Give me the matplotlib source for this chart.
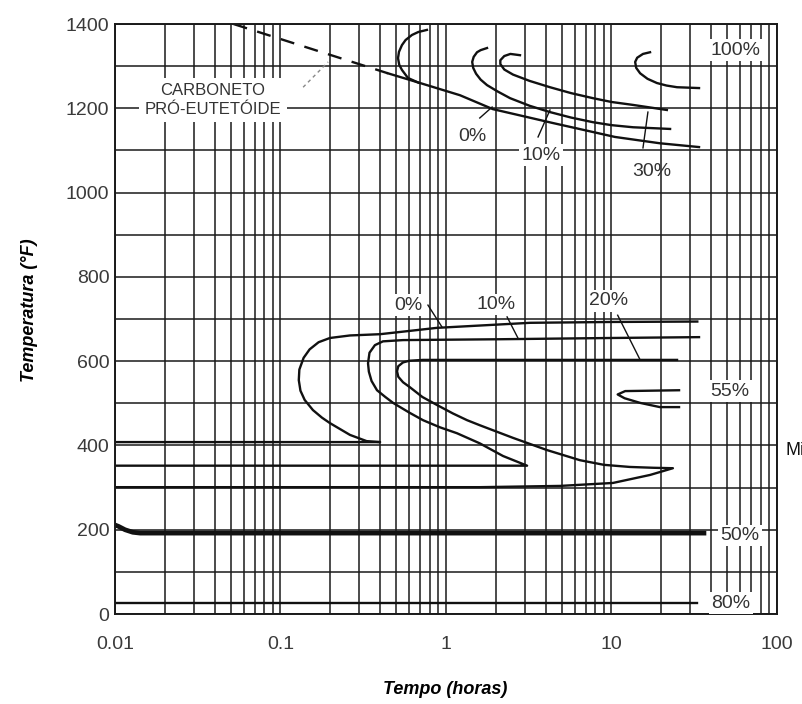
import matplotlib
matplotlib.use('Agg')
import matplotlib.pyplot as plt
from matplotlib.ticker import FixedLocator, NullFormatter
import numpy as np

plt.rcParams['font.family'] = ['Liberation Sans', 'DejaVu Sans']

# --- data (time in hours, temperature in °F) ---
x_ticks = [0.01, 0.1, 1, 10, 100]
x_tick_labels = ['0.01', '0.1', '1', '10', '100']
y_ticks = [0, 200, 400, 600, 800, 1000, 1200, 1400]

# upper region: pro-eutectoid carbide (dashed) + 0% line
carb_t = [0.052, 0.446]
carb_T = [1400, 1283]
top0_t = [0.446, 0.697, 1.215, 1.92, 4.43, 10.5, 19.6, 33.8]
top0_T = [1283, 1260, 1231, 1198, 1165, 1132, 1117, 1108]
topC_t = [0.767, 0.68, 0.623, 0.57, 0.542, 0.52, 0.513, 0.522, 0.542, 0.589, 0.68]
topC_T = [1386, 1381, 1374, 1362, 1350, 1334, 1319, 1303, 1291, 1272, 1261]
top10_t = [1.77, 1.62, 1.54, 1.47, 1.44, 1.46, 1.52, 1.62, 1.77, 2.05, 2.44, 3.2,
           4.25, 5.7, 7.73, 10.0, 13.5, 22.6]
top10_T = [1343, 1338, 1333, 1322, 1310, 1296, 1282, 1268, 1255, 1240, 1224, 1206,
           1191, 1178, 1167, 1160, 1155, 1151]
top30_t = [2.80, 2.45, 2.25, 2.13, 2.13, 2.25, 2.54, 3.2, 4.25, 5.7, 7.73, 10.0,
           13.5, 21.6]
top30_T = [1326, 1329, 1324, 1314, 1305, 1292, 1280, 1265, 1250, 1236, 1224, 1215,
           1208, 1196]
top100_t = [17.1, 15.5, 14.3, 13.9, 14.1, 14.9, 16.5, 18.8, 21.5, 24.9, 33.8]
top100_T = [1333, 1329, 1320, 1310, 1296, 1283, 1270, 1260, 1254, 1250, 1248]

# middle region: bainite C-curves
mid0_t = [33.0, 10.0, 3.22, 0.88, 0.40, 0.263, 0.199, 0.170, 0.150, 0.138, 0.130,
          0.129, 0.132, 0.140, 0.157, 0.178, 0.199, 0.263, 0.333, 0.40, 0.0096]
mid0_T = [694, 693, 691, 679, 664, 661, 655, 645, 628, 608, 580,
          555, 530, 508, 484, 466, 453, 425, 410, 408, 408]
mid10_t = [33.8, 10.0, 2.1, 0.55, 0.416, 0.372, 0.345, 0.338, 0.342, 0.355, 0.383,
           0.43, 0.479, 0.6, 0.726, 0.92, 1.165, 1.60, 2.21, 3.09, 0.0096]
mid10_T = [657, 655, 652, 650, 647, 638, 620, 595, 575, 553, 531,
           515, 501, 478, 460, 443, 429, 405, 375, 352, 352]
mid20_t = [24.9, 5.0, 0.726, 0.60, 0.55, 0.515, 0.506, 0.515, 0.55, 0.606, 0.72,
           0.882, 1.1, 1.34, 1.60, 2.54, 4.08, 6.45, 9.0, 12.9, 18.0, 23.5,
           17.1, 10.2, 4.89, 1.6, 0.0096]
mid20_T = [603, 603, 603, 601, 597, 588, 576, 563, 550, 538, 515,
           496, 476, 460, 448, 418, 389, 365, 354, 349, 347, 346,
           330, 311, 304, 301, 301]
c55_t = [25.6, 12.1, 10.9, 12.0, 14.9, 19.6, 25.6]
c55_T = [531, 529, 521, 512, 501, 491, 491]

# lower region: martensite start (Mi) and 80% line
mi_t = [0.0096, 0.0105, 0.0115, 0.0128, 0.0142, 36.2]
mi_T = [214, 208, 200, 194, 192, 192]
m80_t = [0.0096, 32.9]
m80_T = [26, 26]

# labels: (text, time, temperature, white box)
labels = [
    ('0%', 1.44, 1134, False), ('10%', 3.75, 1089, True), ('30%', 17.6, 1051, False),
    ('100%', 56.5, 1338, True), ('0%', 0.589, 733, True), ('10%', 2.0, 735, True),
    ('20%', 9.66, 743, True), ('55%', 52.0, 529, True), ('50%', 59.8, 187, True),
    ('80%', 52.7, 26, True),
]
# leader lines: (t0, T0, t1, T1)
leaders = [
    (1.60, 1177, 1.90, 1203), (3.6, 1132, 4.25, 1196), (15.5, 1106, 16.6, 1191),
    (0.778, 733, 0.946, 681), (2.34, 705, 2.72, 655), (10.9, 709, 14.9, 603),
]

fig = plt.figure(figsize=(8.03, 7.04), dpi=100)
ax = fig.add_axes([0.1432, 0.1278, 0.8244, 0.8381])
ax.set_xscale('log')
ax.set_xlim(0.01, 100)
ax.set_ylim(0, 1400)

# graph-paper grid
ax.xaxis.set_major_locator(FixedLocator(x_ticks))
ax.set_xticklabels(x_tick_labels)
ax.xaxis.set_minor_locator(FixedLocator([m * d for d in [0.01, 0.1, 1, 10] for m in range(2, 10)]))
ax.xaxis.set_minor_formatter(NullFormatter())
ax.set_yticks(y_ticks)
ax.set_yticks(np.arange(100, 1400, 200), minor=True)
ax.grid(True, which='both', color='#1a1a1a', linewidth=1.1)
ax.set_axisbelow(True)
ax.tick_params(which='both', length=0, labelsize=14, labelcolor='#3a3a3a')
ax.tick_params(axis='x', pad=16)
ax.tick_params(axis='y', pad=4)
for s in ax.spines.values():
    s.set_linewidth(1.4)
    s.set_color('#1a1a1a')

lw = 1.7
col = '#111111'
ax.plot(carb_t, carb_T, color=col, lw=lw, dashes=(6, 4.5))
for t, T in [(top0_t, top0_T), (topC_t, topC_T), (top10_t, top10_T), (top30_t, top30_T),
             (top100_t, top100_T), (mid0_t, mid0_T), (mid10_t, mid10_T),
             (mid20_t, mid20_T), (c55_t, c55_T), (m80_t, m80_T)]:
    ax.plot(t, T, color=col, lw=lw, solid_joinstyle='round')
ax.plot(mi_t, mi_T, color=col, lw=3.4, solid_joinstyle='round')

# leader from the carbide label
ax.plot([0.137, 0.194], [1250, 1310], color='#888888', lw=1.0, ls=(0, (2.5, 2.5)))
for t0, T0, t1, T1 in leaders:
    ax.plot([t0, t1], [T0, T1], color=col, lw=1.0)

ax.text(0.039, 1220, 'CARBONETO\nPRÓ-EUTETÓIDE', ha='center', va='center', fontsize=12,
        color='#333333', linespacing=1.3,
        bbox=dict(facecolor='white', edgecolor='none', pad=4))
for txt, t, T, box in labels:
    kw = dict(bbox=dict(facecolor='white', edgecolor='none', pad=1.5)) if box else {}
    ax.text(t, T, txt, ha='center', va='center', fontsize=14, color='#333333', **kw)
ax.text(128, 389, 'Mi', ha='center', va='center', fontsize=13, color='#111111', clip_on=False)

fig.text(0.554, 0.02, 'Tempo (horas)', ha='center', va='center', fontsize=13,
         fontweight='bold', style='italic')
fig.text(0.037, 0.56, 'Temperatura (°F)', ha='center', va='center', rotation=90,
         fontsize=13, fontweight='bold', style='italic')

fig.savefig('out.png', dpi=100)
